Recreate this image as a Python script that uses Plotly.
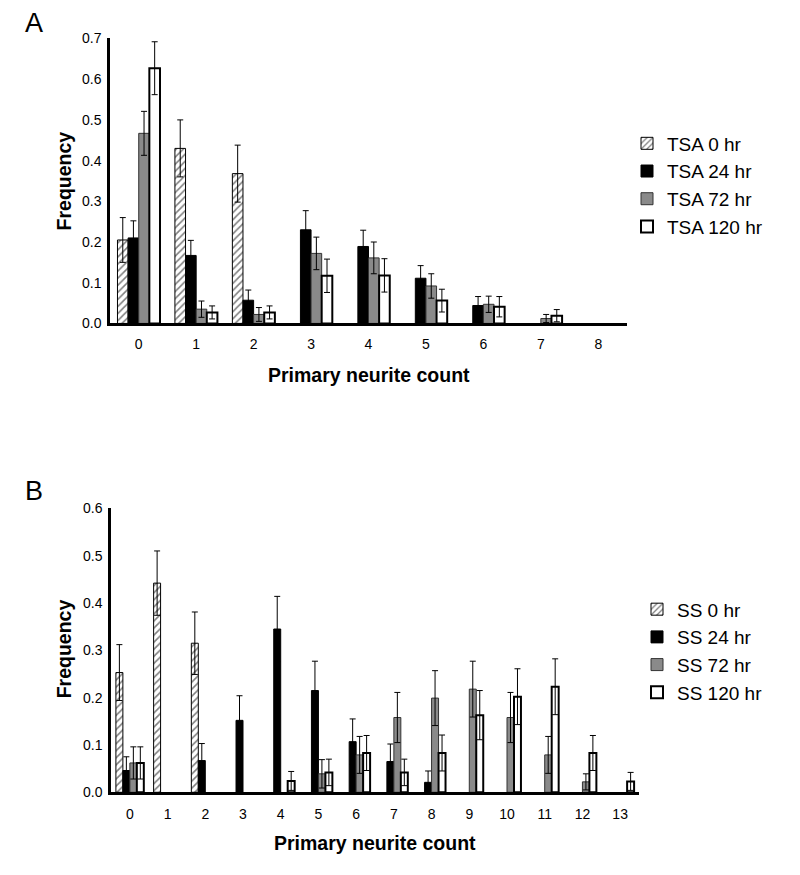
import plotly.graph_objects as go

# ---------------- Data ----------------
cats_a = ["0", "1", "2", "3", "4", "5", "6", "7", "8"]
tsa_names = ["TSA 0 hr", "TSA 24 hr", "TSA 72 hr", "TSA 120 hr"]
tsa_0 = [0.205, 0.430, 0.368, 0, 0, 0, 0, 0, 0]
tsa_0_err = [0.055, 0.070, 0.070, 0, 0, 0, 0, 0, 0]
tsa_24 = [0.210, 0.167, 0.057, 0.230, 0.189, 0.111, 0.044, 0, 0]
tsa_24_err = [0.042, 0.037, 0.025, 0.047, 0.040, 0.031, 0.022, 0, 0]
tsa_72 = [0.467, 0.035, 0.022, 0.172, 0.161, 0.092, 0.047, 0.012, 0]
tsa_72_err = [0.054, 0.020, 0.017, 0.040, 0.039, 0.030, 0.020, 0.010, 0]
tsa_120 = [0.627, 0.027, 0.027, 0.117, 0.118, 0.056, 0.041, 0.019, 0]
tsa_120_err = [0.065, 0.016, 0.016, 0.041, 0.041, 0.028, 0.025, 0.015, 0]

cats_b = ["0", "1", "2", "3", "4", "5", "6", "7", "8", "9", "10", "11", "12", "13"]
ss_names = ["SS 0 hr", "SS 24 hr", "SS 72 hr", "SS 120 hr"]
ss_0 = [0.253, 0.442, 0.315, 0, 0, 0, 0, 0, 0, 0, 0, 0, 0, 0]
ss_0_err = [0.059, 0.068, 0.066, 0, 0, 0, 0, 0, 0, 0, 0, 0, 0, 0]
ss_24 = [0.046, 0, 0.067, 0.152, 0.345, 0.215, 0.107, 0.065, 0.021, 0, 0, 0, 0, 0]
ss_24_err = [0.029, 0, 0.036, 0.052, 0.069, 0.062, 0.048, 0.037, 0.024, 0, 0, 0, 0, 0]
ss_72 = [0.062, 0, 0, 0, 0, 0.039, 0.079, 0.158, 0.199, 0.218, 0.158, 0.079, 0.022, 0]
ss_72_err = [0.034, 0, 0, 0, 0, 0.030, 0.039, 0.053, 0.058, 0.059, 0.053, 0.039, 0.017, 0]
ss_120 = [0.062, 0, 0, 0, 0.024, 0.042, 0.083, 0.042, 0.083, 0.163, 0.202, 0.223, 0.083, 0.023]
ss_120_err = [0.034, 0, 0, 0, 0.020, 0.028, 0.037, 0.028, 0.038, 0.052, 0.059, 0.059, 0.037, 0.019]

# ---------------- Layout helpers ----------------
W, H = 800, 875
FONT = "Liberation Sans, Arial, sans-serif"
X0, Y0, SY = 9.0, 14.5, 0.982  # empirical render offset/scale compensation


def px(x):
    return (x - X0) / W


def py(y):
    return 1 - ((y - Y0) / SY) / H


styles = [
    dict(color="white", pattern=dict(shape="/", fgcolor="black", bgcolor="white", size=5, solidity=0.32),
         line=dict(color="black", width=1)),
    dict(color="black", line=dict(color="black", width=1)),
    dict(color="#8a8a8a", line=dict(color="#333333", width=1)),
    dict(color="white", line=dict(color="black", width=2)),
]

fig = go.Figure()


def nz(vals):
    return [v if v > 0 else None for v in vals]


def add_panel(cats, names, series, errs, xa, ya, legend):
    for i, (name, vals, err) in enumerate(zip(names, series, errs)):
        fig.add_trace(go.Bar(
            x=cats, y=nz(vals), name=name,
            marker=styles[i],
            error_y=dict(type="data", array=err, symmetric=True, color="black", thickness=1, width=3),
            xaxis=xa, yaxis=ya, legend=legend,
        ))


add_panel(cats_a, tsa_names, [tsa_0, tsa_24, tsa_72, tsa_120],
          [tsa_0_err, tsa_24_err, tsa_72_err, tsa_120_err], "x", "y", "legend")
add_panel(cats_b, ss_names, [ss_0, ss_24, ss_72, ss_120],
          [ss_0_err, ss_24_err, ss_72_err, ss_120_err], "x2", "y2", "legend2")

axis_common = dict(showline=True, linecolor="black", linewidth=2.5, showgrid=False, zeroline=False,
                   ticks="", tickfont=dict(size=14, color="black", family=FONT))

legend_common = dict(xanchor="left", yanchor="top", bgcolor="rgba(0,0,0,0)",
                     font=dict(size=19, family=FONT, color="black"), tracegroupgap=0, itemwidth=30)

fig.update_layout(
    width=W, height=H,
    margin=dict(l=0, r=0, t=0, b=0),
    paper_bgcolor="white", plot_bgcolor="white",
    font=dict(family=FONT, color="black"),
    barmode="group", bargap=0.26, bargroupgap=0,
    showlegend=True,
    xaxis=dict(domain=[px(111), px(628)], anchor="y", type="category", ticklabelstandoff=6, **axis_common),
    yaxis=dict(domain=[py(322), py(37)], anchor="x", range=[0, 0.7], dtick=0.1, tickformat=".1f",
               ticklabelstandoff=3, **axis_common),
    xaxis2=dict(domain=[px(112), px(640)], anchor="y2", type="category", ticklabelstandoff=7, **axis_common),
    yaxis2=dict(domain=[py(791), py(507)], anchor="x2", range=[0, 0.6], dtick=0.1, tickformat=".1f",
                ticklabelstandoff=3, **axis_common),
    legend=dict(x=px(628), y=py(123), **legend_common),
    legend2=dict(x=px(638), y=py(589), **legend_common),
)

annots = [
    dict(text="A", x=px(35), y=py(22), font=dict(size=27)),
    dict(text="B", x=px(35), y=py(490), font=dict(size=27)),
    dict(text="<b>Frequency</b>", x=px(65), y=py(180), textangle=-90, font=dict(size=19.5)),
    dict(text="<b>Frequency</b>", x=px(65), y=py(648), textangle=-90, font=dict(size=19.5)),
    dict(text="<b>Primary neurite count</b>", x=px(370), y=py(374), font=dict(size=19.5)),
    dict(text="<b>Primary neurite count</b>", x=px(376), y=py(842), font=dict(size=19.5)),
]
for a in annots:
    fig.add_annotation(xref="paper", yref="paper", showarrow=False, xanchor="center", yanchor="middle",
                       **{k: v for k, v in a.items() if k != "font"},
                       font=dict(family=FONT, color="black", **a["font"]))

fig.write_html("out.html")
